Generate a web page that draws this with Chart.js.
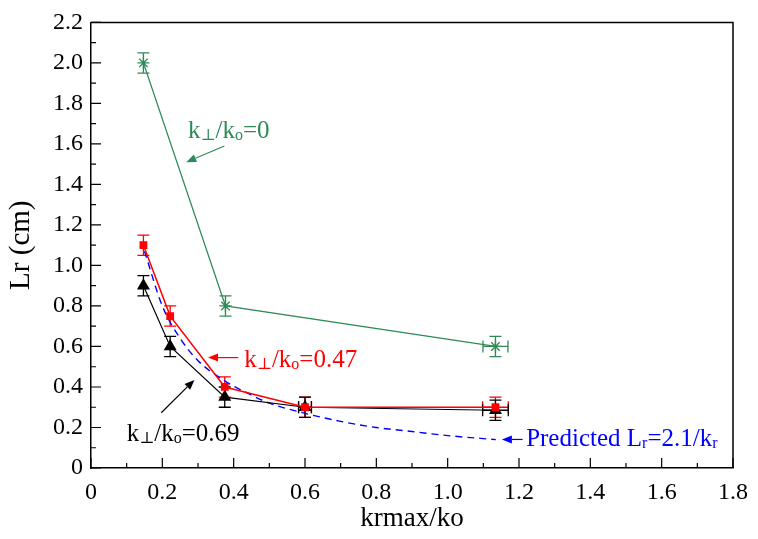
<!DOCTYPE html>
<html>
<head>
<meta charset="utf-8">
<script src="https://cdn.jsdelivr.net/npm/chart.js@4"></script>
<style>
  html, body { margin: 0; padding: 0; background: #fff; }
  #wrap { width: 758px; height: 539px; position: relative; }
  #probe { position: absolute; left: -1000px; top: 0; font-family: "Liberation Serif"; font-size: 22px; }
</style>
</head>
<body>
<div id="probe">Lr (cm) 0.2 k⊥/ko</div>
<div id="wrap"><canvas id="c" width="758" height="539"></canvas></div>
<script>
// ---- data ----
const xTickLabels = ['0','0.2','0.4','0.6','0.8','1.0','1.2','1.4','1.6','1.8'];
const yTickLabels = ['0','0.2','0.4','0.6','0.8','1.0','1.2','1.4','1.6','1.8','2.0','2.2'];

const xGreen = [0.147, 0.377, 1.134];
const yGreen = [2.0, 0.8, 0.6];
const yErrGreen = [0.05, 0.05, 0.05];
const xErrGreen = [0, 0, 0.035];

const xRB = [0.147, 0.222, 0.375, 0.6, 1.134];
const yRed = [1.1, 0.75, 0.4, 0.3, 0.3];
const yErrRed = [0.05, 0.05, 0.05, 0.05, 0.05];
const xErrRed = [0, 0, 0, 0.018, 0.036];

const yBlack = [0.9, 0.6, 0.35, 0.3, 0.285];
const yErrBlack = [0.05, 0.05, 0.05, 0.05, 0.05];
const xErrBlack = [0, 0, 0, 0.018, 0.036];

const xPred = [0.15, 0.2, 0.25, 0.3, 0.375, 0.45, 0.5, 0.6, 0.7, 0.8, 0.9, 1.0, 1.135];
const yPred = [1.07, 0.8, 0.64, 0.53, 0.43, 0.36, 0.32, 0.27, 0.23, 0.2, 0.18, 0.16, 0.14];

const GREEN = 'rgb(46,139,87)';
const RED = '#ff0000';
const BLUE = '#0000ff';
const BLACK = '#000000';
const FONT = "'Liberation Serif', 'DejaVu Serif', serif";

function pts(xs, ys) { return xs.map((x, i) => ({ x: x, y: ys[i] })); }

const errInfo = [
  { xe: xErrRed, ye: yErrRed, color: RED },
  { xe: xErrBlack, ye: yErrBlack, color: BLACK },
  { xe: xErrGreen, ye: yErrGreen, color: GREEN },
  null
];

const errorBars = {
  id: 'errorBars',
  beforeDatasetsDraw(chart) {
    const ctx = chart.ctx, xs = chart.scales.x, ys = chart.scales.y;
    ctx.save();
    chart.data.datasets.forEach((ds, di) => {
      const info = errInfo[di];
      if (!info) return;
      ctx.strokeStyle = info.color;
      ctx.lineWidth = 1.3;
      ds.data.forEach((p, i) => {
        const px = xs.getPixelForValue(p.x), py = ys.getPixelForValue(p.y);
        const ye = info.ye[i], xe = info.xe[i];
        const cap = 6;
        if (ye) {
          const t = ys.getPixelForValue(p.y + ye), b = ys.getPixelForValue(p.y - ye);
          ctx.beginPath();
          ctx.moveTo(px, t); ctx.lineTo(px, b);
          ctx.moveTo(px - cap, t); ctx.lineTo(px + cap, t);
          ctx.moveTo(px - cap, b); ctx.lineTo(px + cap, b);
          ctx.stroke();
        }
        if (xe) {
          const l = xs.getPixelForValue(p.x - xe), r = xs.getPixelForValue(p.x + xe);
          ctx.beginPath();
          ctx.moveTo(l, py); ctx.lineTo(r, py);
          ctx.moveTo(l, py - cap); ctx.lineTo(l, py + cap);
          ctx.moveTo(r, py - cap); ctx.lineTo(r, py + cap);
          ctx.stroke();
        }
      });
    });
    ctx.restore();
  }
};

const frameTicks = {
  id: 'frameTicks',
  afterDraw(chart) {
    const ctx = chart.ctx, a = chart.chartArea, xs = chart.scales.x, ys = chart.scales.y;
    ctx.save();
    ctx.strokeStyle = '#000';
    ctx.lineWidth = 1.5;
    ctx.beginPath();
    ctx.moveTo(a.left, a.top); ctx.lineTo(a.right, a.top); ctx.lineTo(a.right, a.bottom);
    ctx.stroke();
    ctx.lineWidth = 1.2;
    ctx.beginPath();
    const xt = xs.ticks.map(t => t.value);
    xt.forEach((v, i) => {
      const p = xs.getPixelForValue(v);
      ctx.moveTo(p, a.bottom); ctx.lineTo(p, a.bottom - 10);
      if (i < xt.length - 1) {
        const m = xs.getPixelForValue((v + xt[i + 1]) / 2);
        ctx.moveTo(m, a.bottom); ctx.lineTo(m, a.bottom - 5);
      }
    });
    const yt = ys.ticks.map(t => t.value);
    yt.forEach((v, i) => {
      const p = ys.getPixelForValue(v);
      ctx.moveTo(a.left, p); ctx.lineTo(a.left + 10, p);
      if (i < yt.length - 1) {
        const m = ys.getPixelForValue((v + yt[i + 1]) / 2);
        ctx.moveTo(a.left, m); ctx.lineTo(a.left + 5, m);
      }
    });
    ctx.stroke();
    ctx.restore();
  }
};

function arrow(ctx, x1, y1, x2, y2, color) {
  ctx.strokeStyle = color; ctx.fillStyle = color; ctx.lineWidth = 1.2;
  const ang = Math.atan2(y2 - y1, x2 - x1);
  const hl = 10, hw = 4;
  const bx = x2 - hl * Math.cos(ang), by = y2 - hl * Math.sin(ang);
  ctx.beginPath(); ctx.moveTo(x1, y1); ctx.lineTo(bx, by); ctx.stroke();
  ctx.beginPath();
  ctx.moveTo(x2, y2);
  ctx.lineTo(bx + hw * Math.sin(ang), by - hw * Math.cos(ang));
  ctx.lineTo(bx - hw * Math.sin(ang), by + hw * Math.cos(ang));
  ctx.closePath(); ctx.fill();
}

// parts: [text, isSub]
function richText(ctx, x, y, parts, color) {
  ctx.fillStyle = color;
  ctx.textBaseline = 'alphabetic';
  ctx.textAlign = 'left';
  let cx = x;
  parts.forEach(([t, sub]) => {
    ctx.font = (sub ? '16px ' : '25px ') + FONT;
    ctx.fillText(t, cx, y + (sub ? 2 : 0));
    cx += ctx.measureText(t).width;
  });
}

const annotations = {
  id: 'annotations',
  afterDraw(chart) {
    const ctx = chart.ctx, xs = chart.scales.x, ys = chart.scales.y;
    const X = v => xs.getPixelForValue(v), Y = v => ys.getPixelForValue(v);
    ctx.save();
    richText(ctx, X(0.272), Y(1.63), [['k', 0], ['\u22a5', 1], ['/k', 0], ['o', 1], ['=0', 0]], GREEN);
    arrow(ctx, X(0.374), Y(1.59), X(0.267), Y(1.51), GREEN);
    richText(ctx, X(0.43), Y(0.50), [['k', 0], ['\u22a5', 1], ['/k', 0], ['o', 1], ['=0.47', 0]], RED);
    arrow(ctx, X(0.413), Y(0.545), X(0.328), Y(0.545), RED);
    richText(ctx, X(0.1), Y(0.135), [['k', 0], ['\u22a5', 1], ['/k', 0], ['o', 1], ['=0.69', 0]], BLACK);
    arrow(ctx, X(0.197), Y(0.273), X(0.29), Y(0.435), BLACK);
    richText(ctx, X(1.22), Y(0.107), [['Predicted L', 0], ['r', 1], ['=2.1/k', 0], ['r', 1]], BLUE);
    arrow(ctx, X(1.21), Y(0.141), X(1.152), Y(0.141), BLUE);
    ctx.restore();
  }
};

function build() {
  new Chart(document.getElementById('c'), {
    type: 'scatter',
    data: {
      datasets: [
        { label: 'k⊥/ko=0.47', data: pts(xRB, yRed), showLine: true, borderColor: RED, backgroundColor: RED,
          borderWidth: 1.5, pointStyle: 'rect', pointRadius: 5.5, pointBorderWidth: 0 },
        { label: 'k⊥/ko=0.69', data: pts(xRB, yBlack), showLine: true, borderColor: BLACK, backgroundColor: BLACK,
          borderWidth: 1.2, pointStyle: 'triangle', pointRadius: 7.5, pointBorderWidth: 0 },
        { label: 'k⊥/ko=0', data: pts(xGreen, yGreen), showLine: true, borderColor: GREEN, backgroundColor: GREEN,
          borderWidth: 1.3, pointStyle: 'star', pointRadius: 6, pointBorderWidth: 1.3, pointBorderColor: GREEN },
        { label: 'Predicted', data: pts(xPred, yPred), showLine: true, borderColor: BLUE, borderWidth: 1.4,
          borderDash: [7, 5], pointRadius: 0, cubicInterpolationMode: 'monotone' }
      ]
    },
    options: {
      responsive: false,
      animation: false,
      events: [],
      layout: { padding: { left: 0, top: 16, right: 17, bottom: 0 } },
      plugins: { legend: { display: false }, tooltip: { enabled: false } },
      scales: {
        x: {
          type: 'linear', min: 0, max: 1.8,
          grid: { display: false, drawTicks: false },
          border: { display: true, color: '#000', width: 1.5 },
          ticks: { stepSize: 0.2, color: '#000', padding: 10, font: { family: FONT, size: 24 },
                   maxRotation: 0, autoSkip: false,
                   callback: (v, i) => xTickLabels[i] },
          title: { display: true, text: 'krmax/ko', color: '#000', font: { family: FONT, size: 27 }, padding: { top: 0 } },
          afterFit: s => { s.height = 71; }
        },
        y: {
          type: 'linear', min: 0, max: 2.2,
          grid: { display: false, drawTicks: false },
          border: { display: true, color: '#000', width: 1.5 },
          ticks: { stepSize: 0.2, color: '#000', padding: 8, font: { family: FONT, size: 24 },
                   autoSkip: false, callback: (v, i) => yTickLabels[i] },
          title: { display: true, text: 'Lr (cm)', color: '#000', font: { family: FONT, size: 29 }, padding: { top: 4, bottom: 0 } },
          afterFit: s => { s.width = 91; }
        }
      }
    },
    plugins: [errorBars, frameTicks, annotations]
  });
}

const loads = [document.fonts.load("22px 'Liberation Serif'"), document.fonts.load("22px 'DejaVu Serif'")];
Promise.all(loads).then(build, build);
</script>
</body>
</html>
